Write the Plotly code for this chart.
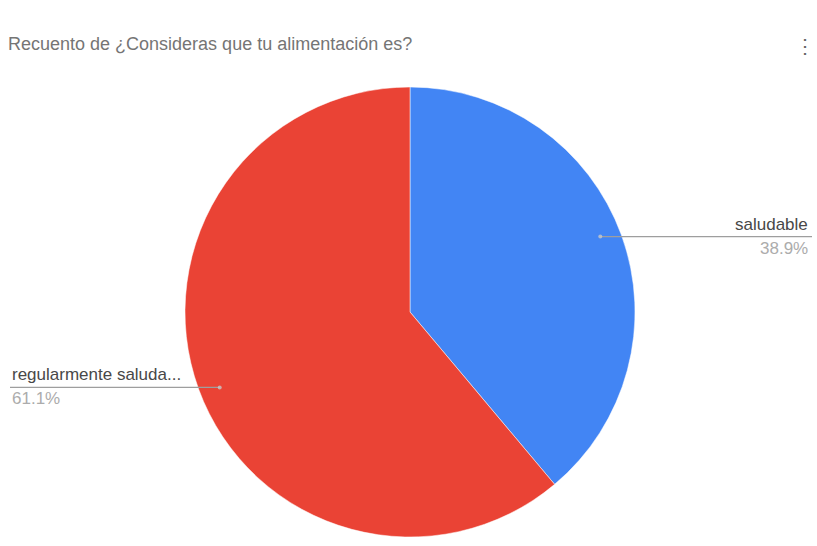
import math
import plotly.graph_objects as go

# Survey answers and their counts
categories = ["saludable", "regularmente saludable"]
short_labels = ["saludable", "regularmente saluda..."]
counts = [7, 11]
colors = ["#4285F4", "#EA4335"]

title_text = "Recuento de ¿Consideras que tu alimentación es?"

W, H = 817, 546
cx, cy, r = 410, 312, 225  # pie centre and radius in pixels
FONT = "Liberation Sans, Arial, sans-serif"

fig = go.Figure(
    go.Pie(
        labels=categories,
        values=counts,
        sort=False,
        direction="clockwise",
        rotation=0,
        marker=dict(colors=colors, line=dict(color="white", width=0.5)),
        textinfo="none",
        hoverinfo="label+value+percent",
        domain=dict(
            x=[(cx - r) / W, (cx + r) / W],
            y=[1 - (cy + r) / H, 1 - (cy - r) / H],
        ),
        showlegend=False,
    )
)

# Leader lines and labels placed at each slice's mid angle
total = sum(counts)
cum = 0.0
shapes = []
annotations = []
for name, val in zip(short_labels, counts):
    frac = val / total
    mid = (cum + frac / 2) * 2 * math.pi
    cum += frac
    px = cx + 0.9 * r * math.sin(mid)
    py = cy - 0.98 * r * math.cos(mid)
    pct = f"{frac * 100:.1f}%"
    right = math.sin(mid) > 0
    x0, x1 = (px, 812) if right else (10, px)
    shapes.append(dict(type="line", xref="paper", yref="paper",
                       x0=x0 / W, x1=x1 / W, y0=1 - py / H, y1=1 - py / H,
                       line=dict(color="#9e9e9e", width=1.2)))
    shapes.append(dict(type="circle", xref="paper", yref="paper",
                       x0=(px - 2) / W, x1=(px + 2) / W,
                       y0=1 - (py + 2) / H, y1=1 - (py - 2) / H,
                       line=dict(width=0), fillcolor="rgba(200,200,200,0.8)"))
    tx = 810 if right else 10
    anchor = "right" if right else "left"
    annotations.append(dict(x=tx / W, y=1 - (py - 1) / H, xref="paper", yref="paper",
                            text=name, showarrow=False, xanchor=anchor, yanchor="bottom",
                            font=dict(family=FONT, size=17, color="#484848")))
    annotations.append(dict(x=tx / W, y=1 - (py + 0) / H, xref="paper", yref="paper",
                            text=pct, showarrow=False, xanchor=anchor, yanchor="top",
                            font=dict(family=FONT, size=17, color="#acacac")))

# Chart menu glyph in the top-right corner
annotations.append(dict(x=1, y=1 - 30 / H, xref="paper", yref="paper", text="⋮",
                        xanchor="right", showarrow=False,
                        font=dict(size=20, color="#666666")))

fig.update_layout(
    width=W, height=H,
    margin=dict(l=0, r=0, t=0, b=0),
    paper_bgcolor="white", plot_bgcolor="white",
    title=dict(text=title_text, x=8 / W, xanchor="left", y=1 - 44 / H, yanchor="middle",
               font=dict(family=FONT, size=18, color="#757575")),
    shapes=shapes,
    annotations=annotations,
)

fig.write_html("out.html")
